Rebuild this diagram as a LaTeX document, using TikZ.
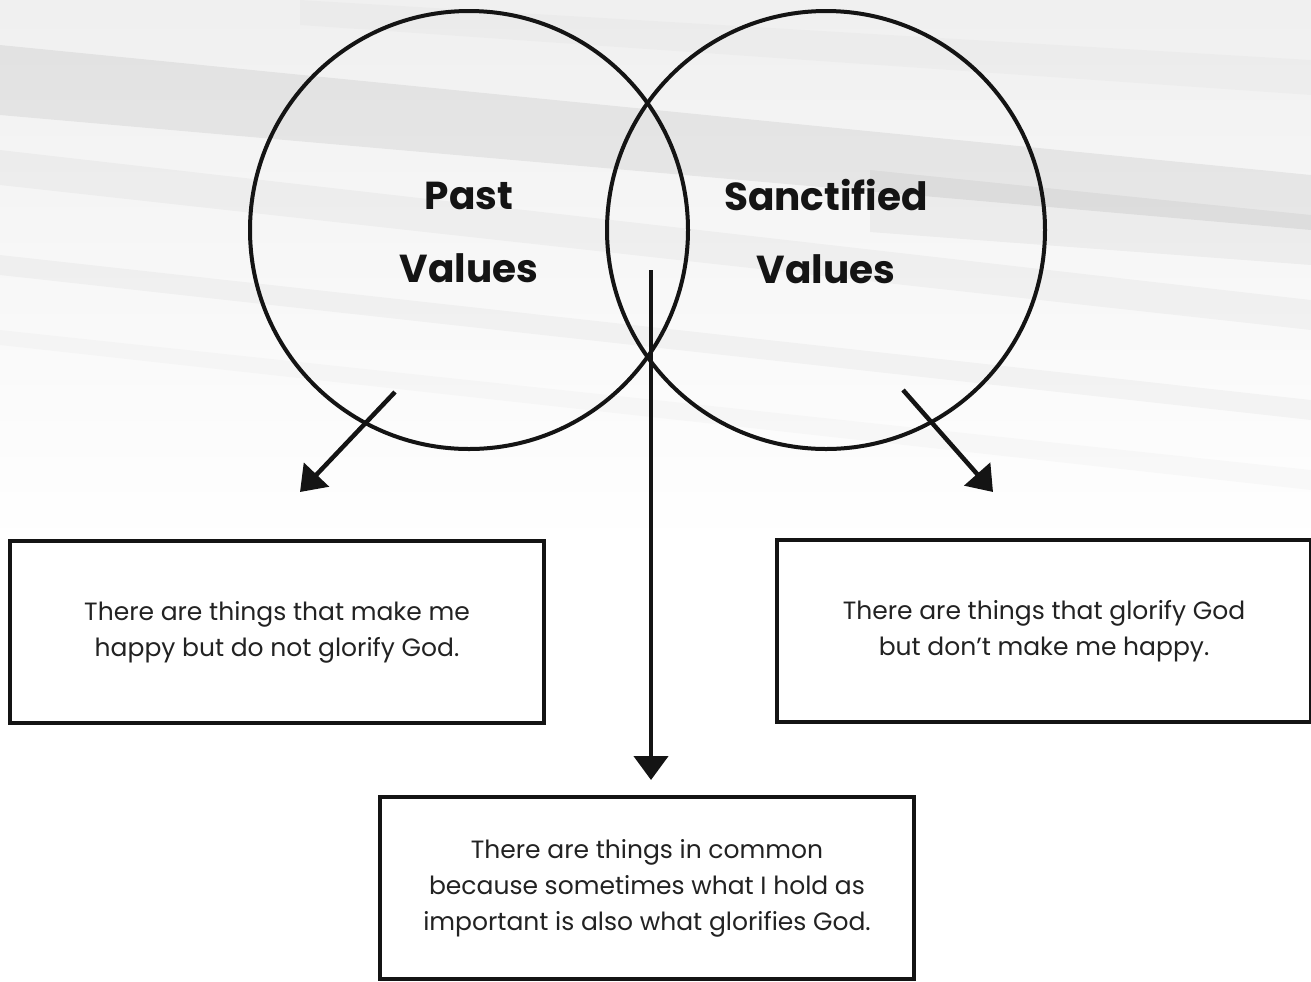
\documentclass[tikz,border=0pt]{standalone}
\usepackage{fontspec}
\setmainfont{Poppins}
\usepackage{tikz}
\usetikzlibrary{shapes,arrows.meta,positioning}
\definecolor{ink}{RGB}{20,20,20}
\definecolor{bodytext}{RGB}{34,34,34}

\begin{document}
\begin{tikzpicture}[x=0.5pt,y=-0.5pt,
    venn/.style={circle, draw=ink, line width=2pt, minimum size=219pt, inner sep=0pt},
    title/.style={font=\bfseries\fontsize{19.5}{36.5}\selectfont, align=center, text=ink},
    infobox/.style={draw=ink, line width=2pt, fill=white, minimum width=267pt, minimum height=91pt,
        align=center, font=\fontsize{12.5}{18}\selectfont, text=bodytext},
    pointer/.style={draw=ink, line width=2.25pt, -{Triangle[width=17pt,length=12pt]}}]

    % Background
    \useasboundingbox (0,0) rectangle (1311,981);
    \fill[white] (0,0) rectangle (1311,981);
    \shade[top color=black!6, bottom color=white] (0,0) rectangle (1311,545);
    \fill[black, opacity=0.06] (0,45) -- (1311,175) -- (1311,230) -- (0,115) -- cycle;
    \fill[black, opacity=0.04] (870,170) -- (1311,215) -- (1311,265) -- (870,232) -- cycle;
    \fill[black, opacity=0.03] (0,150) -- (1311,300) -- (1311,330) -- (0,185) -- cycle;
    \fill[black, opacity=0.03] (0,255) -- (1311,400) -- (1311,420) -- (0,275) -- cycle;
    \fill[black, opacity=0.02] (300,0) -- (1311,60) -- (1311,95) -- (300,25) -- cycle;
    \fill[black, opacity=0.02] (0,330) -- (1311,470) -- (1311,490) -- (0,345) -- cycle;

    % Circles
    \node[venn] (past) at (469,230) {};
    \node[venn] (sanct) at (826,230) {};

    % Labels
    \node[title] (pastlbl) at (469,232) {Past\\Values};
    \node[title] (sanctlbl) at (826,232) {Sanctified\\Values};

    % Boxes
    \node[infobox] (leftbox) at (277,632) {There are things that make me\\happy but do not glorify God.};
    \node[infobox] (rightbox) at (1044,631) {There are things that glorify God\\but don't make me happy.};
    \node[infobox] (commonbox) at (647,888) {There are things in common\\because sometimes what I hold as\\important is also what glorifies God.};

    % Arrows
    \coordinate (pastfrom) at (395,392);
    \coordinate (pastto) at (300,492);
    \coordinate (sanctfrom) at (903,390);
    \coordinate (sanctto) at (993,492);
    \coordinate (commonfrom) at (651,270);
    \coordinate (commonto) at (651,780);
    \draw[pointer] (pastfrom) -- (pastto);
    \draw[pointer] (sanctfrom) -- (sanctto);
    \draw[pointer] (commonfrom) -- (commonto);
\end{tikzpicture}
\end{document}
